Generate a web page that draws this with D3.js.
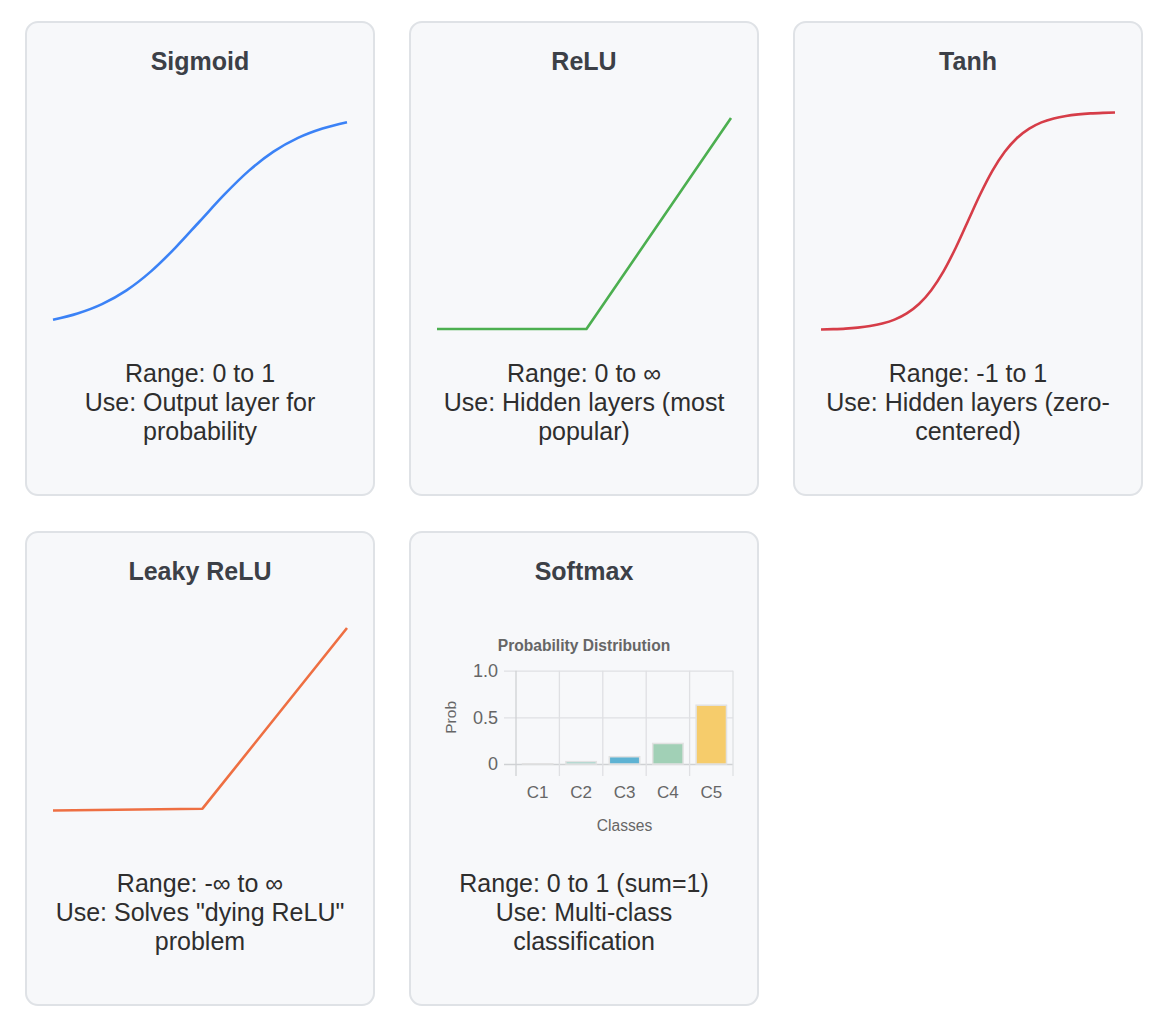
<!DOCTYPE html>
<html>
<head>
<meta charset="utf-8">
<script src="https://cdn.jsdelivr.net/npm/d3@7"></script>
<style>
  html, body { margin: 0; padding: 0; background: #ffffff; }
  svg { display: block; font-family: "Liberation Sans", Arial, Helvetica, sans-serif; }
</style>
</head>
<body>
<svg id="chart" width="1160" height="1022"></svg>
<script>
// ---------- data ----------
const panelTitles = ["Sigmoid", "ReLU", "Tanh", "Leaky ReLU", "Softmax"];
const lineColors = ["#3b82f6", "#4caf50", "#d63d48", "#ee6f42"];

const sigmoidX = [-3, -2.5, -2, -1.5, -1, -0.5, 0, 0.5, 1, 1.5, 2, 2.5, 3];
const sigmoidY = [0.047, 0.076, 0.119, 0.182, 0.269, 0.378, 0.5, 0.622, 0.731, 0.818, 0.881, 0.924, 0.953];

const reluX = [-3, 0.05, 3];
const reluY = [0, 0, 3];

const tanhX = [-3, -2.75, -2.5, -2.25, -2, -1.75, -1.5, -1.25, -1, -0.75, -0.5, -0.25, 0,
               0.25, 0.5, 0.75, 1, 1.25, 1.5, 1.75, 2, 2.25, 2.5, 2.75, 3];
const tanhY = [-0.995, -0.992, -0.987, -0.978, -0.964, -0.941, -0.905, -0.848, -0.762, -0.635, -0.462, -0.245, 0,
               0.245, 0.462, 0.635, 0.762, 0.848, 0.905, 0.941, 0.964, 0.978, 0.987, 0.992, 0.995];

const leakyX = [-3, 0.05, 3];
const leakyY = [-0.03, 0, 3];

const xDomain = [-3, 3];
const yDomains = [[0, 1], [-0.014, 3.085], [-1, 1], [-0.52, 3.1]];

const descLines = [
  ["Range: 0 to 1", "Use: Output layer for", "probability"],
  ["Range: 0 to \u221e", "Use: Hidden layers (most", "popular)"],
  ["Range: -1 to 1", "Use: Hidden layers (zero-", "centered)"],
  ["Range: -\u221e to \u221e", "Use: Solves \"dying ReLU\"", "problem"],
  ["Range: 0 to 1 (sum=1)", "Use: Multi-class", "classification"]
];

const softmaxClasses = ["C1", "C2", "C3", "C4", "C5"];
const softmaxProbs = [0.002, 0.025, 0.078, 0.22, 0.63];
const softmaxColors = ["#f1c8cf", "#97d3c6", "#5eb3d3", "#a1d0b6", "#f6cc6b"];
const probTicks = [0, 0.5, 1.0];
const probTickLabels = ["0", "0.5", "1.0"];
const softmaxTitle = "Probability Distribution";
const softmaxXTitle = "Classes";
const softmaxYTitle = "Prob";

// ---------- layout ----------
const svg = d3.select("#chart");
const cardW = 350, cardH = 475;
const cardX = [25, 409, 793, 25, 409];
const cardY = [21, 21, 21, 531, 531];

const seriesX = [sigmoidX, reluX, tanhX, leakyX];
const seriesY = [sigmoidY, reluY, tanhY, leakyY];
const curves = [d3.curveMonotoneX, d3.curveLinear, d3.curveMonotoneX, d3.curveLinear];

panelTitles.forEach((title, i) => {
  const g = svg.append("g").attr("transform", `translate(${cardX[i]},${cardY[i]})`);
  g.append("rect")
    .attr("x", 1).attr("y", 1)
    .attr("width", cardW - 2).attr("height", cardH - 2)
    .attr("rx", 12).attr("ry", 12)
    .attr("fill", "#f7f8fa")
    .attr("stroke", "#dfe2e6")
    .attr("stroke-width", 2);

  g.append("text")
    .attr("x", cardW / 2).attr("y", 49)
    .attr("text-anchor", "middle")
    .attr("font-size", 25).attr("font-weight", "bold")
    .attr("fill", "#3c4047")
    .text(title);

  descLines[i].forEach((line, k) => {
    g.append("text")
      .attr("x", cardW / 2).attr("y", 360.5 + k * 29)
      .attr("text-anchor", "middle")
      .attr("font-size", 25)
      .attr("fill", "#2e2e2e")
      .text(line);
  });

  if (i < 4) {
    const x = d3.scaleLinear().domain(xDomain).range([28, 322]);
    const y = d3.scaleLinear().domain(yDomains[i]).range([309, 91]);
    const pts = seriesX[i].map((v, k) => [v, seriesY[i][k]]);
    const line = d3.line().x(d => x(d[0])).y(d => y(d[1])).curve(curves[i]);
    g.append("path")
      .datum(pts)
      .attr("d", line)
      .attr("fill", "none")
      .attr("stroke", lineColors[i])
      .attr("stroke-width", 2.6)
      .attr("stroke-linejoin", "round");
  } else {
    drawSoftmax(g);
  }
});

function drawSoftmax(g) {
  const left = 107, right = 324, top = 139.7, bottom = 233;
  const x = d3.scaleBand().domain(softmaxClasses).range([left, right]).paddingInner(0).paddingOuter(0);
  const y = d3.scaleLinear().domain([0, 1]).range([bottom, top]);
  const gridColor = "#dfe0e3";
  const axisColor = "#cfd1d4";

  g.append("text")
    .attr("x", 175).attr("y", 120)
    .attr("text-anchor", "middle")
    .attr("font-size", 15.6).attr("font-weight", "bold")
    .attr("fill", "#666666")
    .text(softmaxTitle);

  // horizontal grid + y ticks
  const yAxis = d3.axisLeft(y).tickValues(probTicks)
    .tickFormat((d, k) => probTickLabels[k])
    .tickSize(-(right - left)).tickPadding(18);
  const ya = g.append("g").attr("transform", `translate(${left},0)`).call(yAxis);
  ya.select(".domain").remove();
  ya.selectAll(".tick line")
    .attr("x1", -12)
    .attr("stroke", (d) => d === 0 ? axisColor : gridColor)
    .attr("stroke-width", 1.3);
  ya.selectAll(".tick text")
    .attr("x", -18)
    .attr("font-size", 18)
    .attr("font-family", "Liberation Sans, Arial, sans-serif")
    .attr("fill", "#666666");

  // vertical grid lines at category boundaries
  const bounds = softmaxClasses.map(c => x(c)).concat([right]);
  g.selectAll(".vgrid").data(bounds).enter().append("line")
    .attr("x1", d => d).attr("x2", d => d)
    .attr("y1", top).attr("y2", bottom + 12)
    .attr("stroke", (d, k) => k === 0 ? axisColor : gridColor)
    .attr("stroke-width", 1.3);

  // x labels
  const xAxis = d3.axisBottom(x).tickSize(0).tickPadding(22);
  const xa = g.append("g").attr("transform", `translate(0,${bottom})`).call(xAxis);
  xa.select(".domain").remove();
  xa.selectAll(".tick text")
    .attr("font-size", 17)
    .attr("font-family", "Liberation Sans, Arial, sans-serif")
    .attr("fill", "#666666");

  // bars
  const bw = x.bandwidth() * 0.7;
  g.selectAll(".bar").data(softmaxProbs).enter().append("rect")
    .attr("x", (d, k) => x(softmaxClasses[k]) + (x.bandwidth() - bw) / 2)
    .attr("y", d => y(d))
    .attr("width", bw)
    .attr("height", d => Math.max(0, y(0) - y(d)))
    .attr("fill", (d, k) => softmaxColors[k])
    .attr("stroke", "#e2e2e2")
    .attr("stroke-width", 1.5);

  g.append("text")
    .attr("x", (left + right) / 2).attr("y", 300)
    .attr("text-anchor", "middle")
    .attr("font-size", 15.6)
    .attr("fill", "#666666")
    .text(softmaxXTitle);

  g.append("text")
    .attr("transform", `translate(47,${(top + bottom) / 2}) rotate(-90)`)
    .attr("text-anchor", "middle")
    .attr("font-size", 15.5)
    .attr("fill", "#666666")
    .text(softmaxYTitle);
}
</script>
</body>
</html>
